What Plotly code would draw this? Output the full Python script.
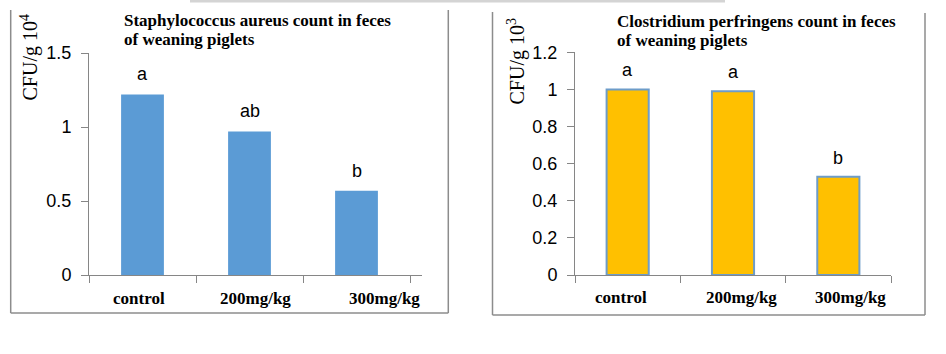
import plotly.graph_objects as go

W, H = 946, 354

categories = ["control", "200mg/kg", "300mg/kg"]
staph_values = [1.22, 0.97, 0.57]
staph_letters = ["a", "ab", "b"]
clos_values = [1.00, 0.99, 0.53]
clos_letters = ["a", "a", "b"]
staph_ticks = [0, 0.5, 1, 1.5]
clos_ticks = [0, 0.2, 0.4, 0.6, 0.8, 1.0, 1.2]
staph_ticktext = ["0", "0.5", "1", "1.5"]
clos_ticktext = ["0", "0.2", "0.4", "0.6", "0.8", "1", "1.2"]
staph_title_lines = ["Staphylococcus aureus count in feces", "of weaning piglets"]
clos_title_lines = ["Clostridium perfringens count in feces", "of weaning piglets"]
staph_ylabel = "CFU/g 10<sup>4</sup>"
clos_ylabel = "CFU/g 10<sup>3</sup>"

def px(x):
    return x / W

def py(y):
    return 1 - y / H

fig = go.Figure()
fig.add_trace(go.Bar(x=categories, y=staph_values, xaxis="x", yaxis="y",
                     marker=dict(color="#5B9BD5", line=dict(width=0)),
                     showlegend=False, hoverinfo="skip"))
fig.add_trace(go.Bar(x=categories, y=clos_values, xaxis="x2", yaxis="y2",
                     marker=dict(color="#FFC000", line=dict(color="#6D9CC9", width=2)),
                     showlegend=False, hoverinfo="skip"))

axis_common = dict(showgrid=False, zeroline=False, showline=True, automargin=False,
                   linecolor="#868686", linewidth=1, ticks="outside",
                   tickcolor="#868686", ticklen=7, tickwidth=1)

tick_font = dict(family="Liberation Sans, Arial, sans-serif", size=18, color="#000000")

fig.update_layout(
    template="none",
    width=W, height=H,
    margin=dict(l=0, r=0, t=0, b=0, pad=0, autoexpand=False),
    paper_bgcolor="white", plot_bgcolor="white",
    bargap=0.6,
    xaxis=dict(domain=[px(89), px(422)], anchor="y", tickson="boundaries",
               showticklabels=False, **axis_common),
    yaxis=dict(domain=[py(275), py(53)], anchor="x", range=[0, 1.5],
               tickvals=staph_ticks, ticktext=staph_ticktext,
               tickfont=tick_font, ticklabelstandoff=6, **axis_common),
    xaxis2=dict(domain=[px(575), px(891)], anchor="y2", tickson="boundaries",
                showticklabels=False, **axis_common),
    yaxis2=dict(domain=[py(275), py(52.3)], anchor="x2", range=[0, 1.2],
                tickvals=clos_ticks, ticktext=clos_ticktext,
                tickfont=tick_font, ticklabelstandoff=6, **axis_common),
)

annotations = []
letter_font = dict(family="Liberation Sans, Arial, sans-serif", size=18, color="#000000")
for c, v, t in zip(categories, staph_values, staph_letters):
    annotations.append(dict(x=c, y=v, xref="x", yref="y", text=t, showarrow=False,
                            font=letter_font, yanchor="middle", yshift=20))
for c, v, t in zip(categories, clos_values, clos_letters):
    annotations.append(dict(x=c, y=v, xref="x2", yref="y2", text=t, showarrow=False,
                            font=letter_font, yanchor="middle", yshift=19))

cat_font = dict(family="Liberation Serif, Times New Roman, serif", size=17, color="#000000")
staph_shift = [-4, 6, 28]
clos_shift = [-7, 8, 12]
for c, s in zip(categories, staph_shift):
    annotations.append(dict(x=c, y=0, xref="x", yref="y", text="<b>%s</b>" % c,
                            showarrow=False, font=cat_font, yanchor="middle",
                            yshift=-23, xshift=s))
for c, s in zip(categories, clos_shift):
    annotations.append(dict(x=c, y=0, xref="x2", yref="y2", text="<b>%s</b>" % c,
                            showarrow=False, font=cat_font, yanchor="middle",
                            yshift=-22, xshift=s))

title_font = dict(family="Liberation Serif, Times New Roman, serif", size=17, color="#000000")
for line, yy in zip(staph_title_lines, [20, 39]):
    annotations.append(dict(x=px(122), y=py(yy), xref="paper", yref="paper",
                            text="<b>%s</b>" % line, showarrow=False, align="left",
                            xanchor="left", yanchor="middle", font=title_font))
for line, yy in zip(clos_title_lines, [22, 41]):
    annotations.append(dict(x=px(615), y=py(yy), xref="paper", yref="paper",
                            text="<b>%s</b>" % line, showarrow=False, align="left",
                            xanchor="left", yanchor="middle", font=title_font))

ylab_font = dict(family="Liberation Serif, Times New Roman, serif", size=20, color="#000000")
annotations.append(dict(x=px(29), y=py(57.5), xref="paper", yref="paper",
                        text=staph_ylabel, showarrow=False, textangle=-90,
                        xanchor="center", yanchor="middle", font=ylab_font))
annotations.append(dict(x=px(516), y=py(61.5), xref="paper", yref="paper",
                        text=clos_ylabel, showarrow=False, textangle=-90,
                        xanchor="center", yanchor="middle", font=ylab_font))
fig.update_layout(annotations=annotations)

border = dict(color="#8C8C8C", width=1.5)
shapes = [
    dict(type="line", xref="paper", yref="paper", x0=px(10.7), x1=px(10.7), y0=py(10), y1=py(313), line=border),
    dict(type="line", xref="paper", yref="paper", x0=px(10.7), x1=px(448.3), y0=py(313), y1=py(313), line=border),
    dict(type="line", xref="paper", yref="paper", x0=px(448.3), x1=px(448.3), y0=py(10), y1=py(313), line=border),
    dict(type="line", xref="paper", yref="paper", x0=px(492.5), x1=px(492.5), y0=py(12), y1=py(315), line=border),
    dict(type="line", xref="paper", yref="paper", x0=px(492.5), x1=px(925), y0=py(315), y1=py(315), line=border),
    dict(type="line", xref="paper", yref="paper", x0=px(925), x1=px(925), y0=py(13), y1=py(315), line=border),
    dict(type="line", xref="paper", yref="paper", x0=px(190), x1=px(725), y0=py(1), y1=py(1),
         line=dict(color="#D4D4D4", width=3)),
]
fig.update_layout(shapes=shapes)

fig.write_html("out.html")
